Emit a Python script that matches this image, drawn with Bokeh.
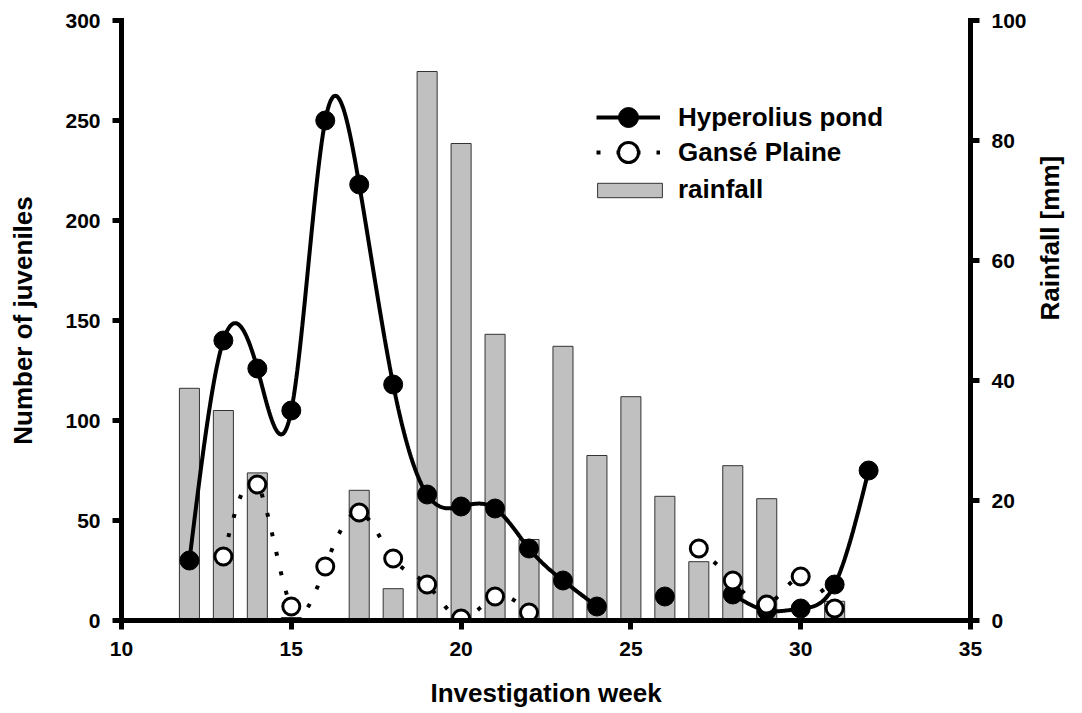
import numpy as np
from bokeh.plotting import figure
from bokeh.models import (Range1d, LinearAxis, FixedTicker, Legend, LegendItem)
from bokeh.embed import file_html
from bokeh.resources import INLINE

# ---------------- data ----------------
weeks_hyp = [12, 13, 14, 15, 16, 17, 18, 19, 20, 21, 22, 23, 24, 26, 28, 29, 30, 31, 32]
juv_hyp = [30, 140, 126, 105, 250, 218, 118, 63, 57, 56, 36, 20, 7, 12, 13, 5, 6, 18, 75]

weeks_gan = [13, 14, 15, 16, 17, 18, 19, 20, 21, 22, 27, 28, 29, 30, 31]
juv_gan = [32, 68, 7, 27, 54, 31, 18, 1, 12, 4, 36, 20, 8, 22, 6]

weeks_rain = [12, 13, 14, 15, 17, 18, 19, 20, 21, 22, 23, 24, 25, 26, 27, 28, 29, 31]
rain_mm = [38.7, 35.0, 24.6, 0.5, 21.7, 5.3, 91.5, 79.5, 47.7, 13.5, 45.7, 27.5, 37.3,
           20.7, 9.8, 25.8, 20.3, 3.2]

x_ticks = [10, 15, 20, 25, 30, 35]
y_ticks = [0, 50, 100, 150, 200, 250, 300]
rain_ticks = [0, 20, 40, 60, 80, 100]

FONT = "Liberation Sans"


def natural_spline(x, y, n=40):
    x = np.asarray(x, float)
    y = np.asarray(y, float)
    m = len(x)
    if m < 3:
        return list(x), list(y)
    h = np.diff(x)
    A = np.zeros((m, m))
    b = np.zeros(m)
    A[0, 0] = 1
    A[-1, -1] = 1
    for i in range(1, m - 1):
        A[i, i - 1] = h[i - 1]
        A[i, i] = 2 * (h[i - 1] + h[i])
        A[i, i + 1] = h[i]
        b[i] = 3 * ((y[i + 1] - y[i]) / h[i] - (y[i] - y[i - 1]) / h[i - 1])
    c = np.linalg.solve(A, b)
    xs, ys = [], []
    for i in range(m - 1):
        t = np.linspace(0, h[i], n, endpoint=(i == m - 2))
        bi = (y[i + 1] - y[i]) / h[i] - h[i] * (2 * c[i] + c[i + 1]) / 3
        di = (c[i + 1] - c[i]) / (3 * h[i])
        xs.extend(x[i] + t)
        ys.extend(y[i] + bi * t + c[i] * t ** 2 + di * t ** 3)
    return xs, ys


def spline_segments(wx, wy):
    segs_x, segs_y = [], []
    cur_x, cur_y = [wx[0]], [wy[0]]
    for a, b in zip(zip(wx[1:], wy[1:]), zip(wx[:-1], wy[:-1])):
        if a[0] - b[0] > 1:
            if len(cur_x) > 1:
                sx, sy = natural_spline(cur_x, cur_y)
                segs_x.append(sx); segs_y.append(sy)
            cur_x, cur_y = [], []
        cur_x.append(a[0]); cur_y.append(a[1])
    if len(cur_x) > 1:
        sx, sy = natural_spline(cur_x, cur_y)
        segs_x.append(sx); segs_y.append(sy)
    return segs_x, segs_y


p = figure(width=1082, height=713, x_range=Range1d(10, 35), y_range=Range1d(0, 300),
           output_backend="svg", toolbar_location=None,
           min_border_left=121, min_border_right=112, min_border_top=20, min_border_bottom=93)
p.extra_y_ranges = {"rain": Range1d(0, 100)}
p.xgrid.visible = False
p.ygrid.visible = False
p.outline_line_color = None
p.background_fill_color = "white"
p.border_fill_color = "white"

# bars (rainfall)
bars = p.vbar(x=weeks_rain, top=rain_mm, bottom=0, width=0.59, y_range_name="rain",
              fill_color="#c0c0c0", line_color="#333333", line_width=1)

# lines
hx, hy = spline_segments(weeks_hyp, juv_hyp)
gx, gy = spline_segments(weeks_gan, juv_gan)
gan_line = p.multi_line(xs=gx, ys=gy, line_color="black", line_width=4, line_dash="4 16")
hyp_line = p.multi_line(xs=hx, ys=hy, line_color="black", line_width=4)

hyp_pts = p.scatter(x=weeks_hyp, y=juv_hyp, size=19, marker="circle",
                    fill_color="black", line_color="black", line_width=1)
gan_pts = p.scatter(x=weeks_gan, y=juv_gan, size=17, marker="circle",
                    fill_color="white", line_color="black", line_width=3)

# axes
p.xaxis.ticker = FixedTicker(ticks=x_ticks)
p.yaxis.ticker = FixedTicker(ticks=y_ticks)
rax = LinearAxis(y_range_name="rain", ticker=FixedTicker(ticks=rain_ticks))
p.add_layout(rax, "right")

xax = p.xaxis[0]
lax = p.yaxis[0]
xax.axis_label = "Investigation week"
lax.axis_label = "Number of juveniles"
rax.axis_label = "Rainfall [mm]"
if "axis_label_orientation" in LinearAxis.properties():
    rax.axis_label_orientation = np.pi / 2

for ax in [xax, lax, rax]:
    ax.axis_line_width = 5
    ax.axis_line_color = "black"
    ax.axis_line_cap = "square"
    ax.major_tick_line_width = 5
    ax.major_tick_line_color = "black"
    ax.major_tick_out = 9
    ax.major_tick_in = 0
    ax.minor_tick_line_color = None
    ax.major_label_text_font = FONT
    ax.major_label_text_font_style = "bold"
    ax.major_label_text_font_size = "21px"
    ax.major_label_text_color = "black"
    ax.major_label_standoff = 12
    ax.axis_label_text_font = FONT
    ax.axis_label_text_font_style = "bold"
    ax.axis_label_text_font_size = "26px"
    ax.axis_label_text_color = "black"

xax.axis_label_standoff = 19
lax.axis_label_standoff = 24
rax.axis_label_standoff = 20


def make_legend(label, renderers, loc, gw, gh, standoff):
    return Legend(items=[LegendItem(label=label, renderers=renderers)],
                  location=loc, glyph_width=gw, glyph_height=gh,
                  label_standoff=standoff, padding=0, margin=0, spacing=0,
                  border_line_color=None, background_fill_alpha=0,
                  label_text_font=FONT, label_text_font_style="bold",
                  label_text_font_size="26px", label_text_color="black")


p.add_layout(make_legend("Hyperolius pond", [hyp_line, hyp_pts], (475, 478), 64, 50, 18), "center")
p.add_layout(make_legend("Gansé Plaine", [gan_line, gan_pts], (475, 443), 64, 50, 18), "center")
p.add_layout(make_legend("rainfall", [bars], (468, 415), 81, 18, 8), "center")

open("out.html", "w").write(file_html(p, INLINE))
